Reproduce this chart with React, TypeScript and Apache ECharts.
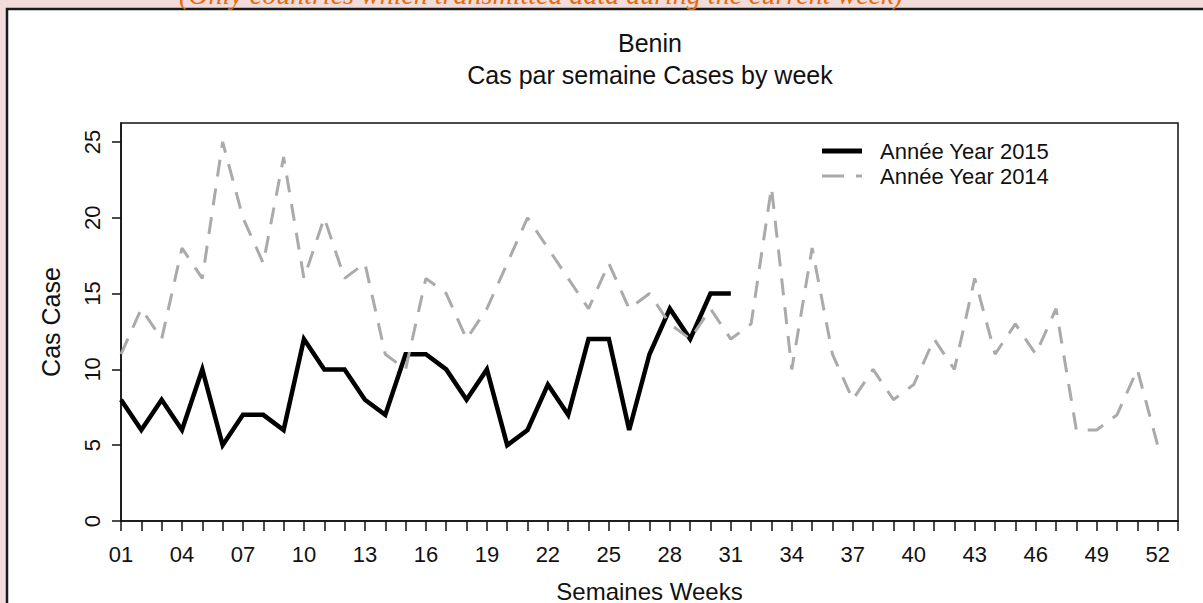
import React, { useEffect, useRef } from "react";
import * as echarts from "echarts";

const weeks = [1,2,3,4,5,6,7,8,9,10,11,12,13,14,15,16,17,18,19,20,21,22,23,24,25,26,27,28,29,30,31,32,33,34,35,36,37,38,39,40,41,42,43,44,45,46,47,48,49,50,51,52];
const tickWeeks = [1,2,3,4,5,6,7,8,9,10,11,12,13,14,15,16,17,18,19,20,21,22,23,24,25,26,27,28,29,30,31,32,33,34,35,36,37,38,39,40,41,42,43,44,45,46,47,48,49,50,51,52,53];
const labelWeeks = [1,4,7,10,13,16,19,22,25,28,31,34,37,40,43,46,49,52];
const yTicks = [0,5,10,15,20,25];

const cases2015 = [8,6,8,6,10,5,7,7,6,12,10,10,8,7,11,11,10,8,10,5,6,9,7,12,12,6,11,14,12,15,15];
const cases2014 = [11,14,12,18,16,25,20,17,24,16,20,16,17,11,10,16,15,12,14,17,20,18,16,14,17,14,15,13,12,14,12,13,22,10,18,11,8,10,8,9,12,10,16,11,13,11,14,6,6,7,10,5];

const seriesNames = ["Année Year 2015", "Année Year 2014"];
const titleText = "Benin";
const subtitleText = "Cas par semaine Cases by week";
const noteText = "(Only countries which transmitted data during the current week)";

const FONT = "'Liberation Sans', Arial, sans-serif";

export default function App() {
  const ref = useRef<HTMLDivElement>(null);
  useEffect(() => {
    document.body.style.margin = "0";
    if (!ref.current) return;
    const chart = echarts.init(ref.current, undefined, { renderer: "svg" });
    const pad = (v: number) => (v < 10 ? "0" + v : String(v));
    chart.setOption({
      animation: false,
      backgroundColor: "transparent",
      grid: {
        left: 121, right: 25, top: 123, bottom: 82,
        outerBoundsMode: "none", containLabel: false,
        show: true, borderColor: "#111", borderWidth: 1.5, backgroundColor: "transparent", z: 1,
      },
      xAxis: {
        type: "value", min: 1, max: 53,
        axisLine: { show: true, onZero: false, lineStyle: { color: "#111", width: 1.5 } },
        axisTick: { show: true, inside: false, length: 10, customValues: tickWeeks, lineStyle: { color: "#111", width: 1.5 } },
        axisLabel: {
          customValues: labelWeeks, formatter: (v: number) => pad(v),
          margin: 22, fontFamily: FONT, fontSize: 22, color: "#111",
        },
        splitLine: { show: false },
        name: "Semaines Weeks", nameLocation: "middle", nameGap: 60,
        nameTextStyle: { fontFamily: FONT, fontSize: 24, lineHeight: 20, color: "#111" },
      },
      yAxis: {
        type: "value", min: 0, max: 26.25,
        axisLine: { show: true, lineStyle: { color: "#111", width: 1.5 } },
        axisTick: { show: true, inside: false, length: 9, customValues: yTicks, lineStyle: { color: "#111", width: 1.5 } },
        axisLabel: {
          customValues: yTicks, rotate: 90, margin: 18,
          fontFamily: FONT, fontSize: 22, color: "#111",
        },
        splitLine: { show: false },
        name: "Cas Case", nameLocation: "middle", nameGap: 58, nameRotate: 90,
        nameTextStyle: { fontFamily: FONT, fontSize: 25, color: "#111" },
      },
      series: [
        {
          name: seriesNames[0], type: "line", showSymbol: false, z: 3,
          data: cases2015.map((v, i) => [weeks[i], v]),
          lineStyle: { color: "#000", width: 4.5, type: "solid", join: "miter" },
        },
        {
          name: seriesNames[1], type: "line", showSymbol: false, z: 4,
          data: cases2014.map((v, i) => [weeks[i], v]),
          lineStyle: { color: "#aaaaaa", width: 3, type: [17, 12] },
        },
      ],
      graphic: [
        {
          type: "rect", z: -10, silent: true,
          shape: { x: 7, y: 9, width: 1220, height: 620 },
          style: { fill: "#ffffff", stroke: "#1a1a1a", lineWidth: 2.5 },
        },
        {
          type: "text", z: 10, x: 179, y: 8,
          style: { text: noteText, fill: "#E46C0A", font: "italic 28px 'Liberation Serif', serif", textVerticalAlign: "bottom" },
        },
        {
          type: "text", z: 10, x: 650, y: 43,
          style: { text: titleText, fill: "#111", font: "25px " + FONT, textAlign: "center", textVerticalAlign: "middle" },
        },
        {
          type: "text", z: 10, x: 650, y: 75,
          style: { text: subtitleText, fill: "#111", font: "25px " + FONT, textAlign: "center", textVerticalAlign: "middle" },
        },
        {
          type: "line", z: 10,
          shape: { x1: 822, y1: 151, x2: 862, y2: 151 },
          style: { stroke: "#000", lineWidth: 5 },
        },
        {
          type: "line", z: 10,
          shape: { x1: 822, y1: 176, x2: 862, y2: 176 },
          style: { stroke: "#aaaaaa", lineWidth: 3, lineDash: [22, 12] },
        },
        {
          type: "text", z: 10, x: 880, y: 151,
          style: { text: seriesNames[0], fill: "#111", font: "22px " + FONT, textVerticalAlign: "middle" },
        },
        {
          type: "text", z: 10, x: 880, y: 176,
          style: { text: seriesNames[1], fill: "#111", font: "22px " + FONT, textVerticalAlign: "middle" },
        },
      ],
    });
    return () => chart.dispose();
  }, []);
  return (
    <div style={{ width: 1203, height: 603, background: "#F2DCDB", position: "relative", overflow: "hidden" }}>
      <div ref={ref} style={{ position: "absolute", left: 0, top: 0, width: 1203, height: 603 }} />
    </div>
  );
}
